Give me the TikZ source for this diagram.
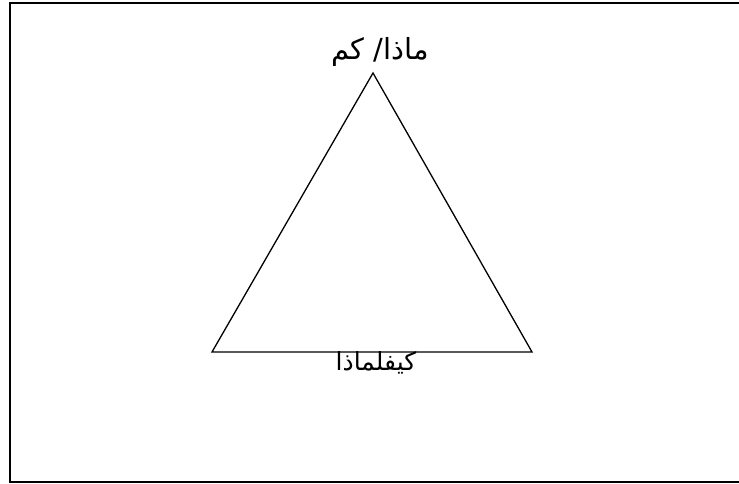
\documentclass[tikz,border=0pt]{standalone}
\usepackage{fontspec}
\newfontfamily\arabicfont[Script=Arabic]{DejaVu Sans}
\TeXXeTstate=1
\begin{document}
\begin{tikzpicture}[x=1pt,y=-1pt,
  frameline/.style={line width=1.6pt},
  triline/.style={line width=1.3pt},
  lbl/.style={inner sep=0pt,font=\arabicfont}]
\useasboundingbox (0,0) rectangle (739,484);
\fill[white] (0,0) rectangle (739,484);
\coordinate (ftr) at (742,3);
\coordinate (ftl) at (10,3);
\coordinate (fbl) at (10,482);
\coordinate (fbr) at (742,482);
\draw[frameline] (ftr) -- (ftl) -- (fbl) -- (fbr);
\coordinate (apex) at (373,73);
\coordinate (left) at (212,352);
\coordinate (right) at (532,352);
\draw[triline,line join=miter] (apex) -- (left) -- (right) -- cycle;
\node[lbl,font=\arabicfont\fontsize{29}{33}\selectfont] (toptext) at (380,52) {\beginR ماذا/ كم\endR};
\node[lbl,font=\arabicfont\fontsize{25}{29}\selectfont] (bottext) at (376,363) {\beginR كيفلماذا\endR};
\end{tikzpicture}
\end{document}
